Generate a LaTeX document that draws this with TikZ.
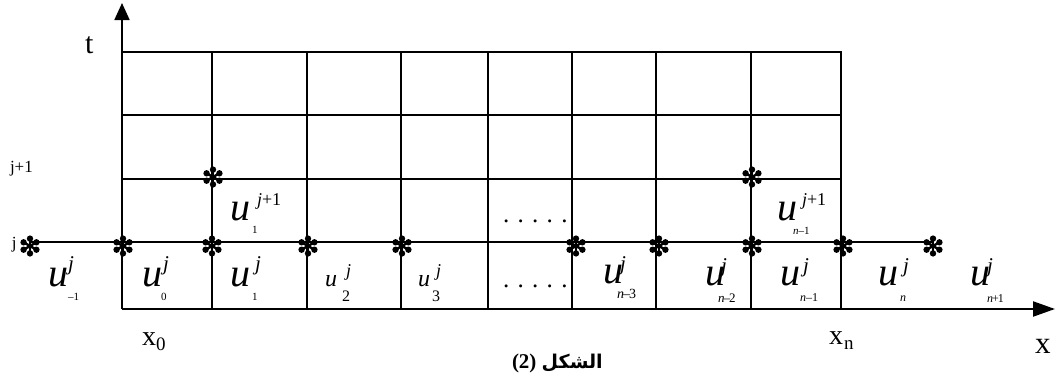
\documentclass[tikz,border=0pt]{standalone}
\usepackage{fontspec}
\setmainfont{Liberation Serif}
\newfontfamily\arabicfont[Script=Arabic]{DejaVu Sans}
\TeXXeTstate=1
\usetikzlibrary{arrows.meta}
\tikzset{
  gridline/.style={line width=2.2pt},
  axisline/.style={line width=1.8pt},
  txt/.style={anchor=base west,inner sep=0pt,outer sep=0pt},
  ubig/.style={txt,font=\fontsize{40}{40}\selectfont\itshape},
  usml/.style={txt,font=\fontsize{24}{24}\selectfont\itshape},
  supj/.style={txt,font=\fontsize{21}{21}\selectfont\itshape},
  supm/.style={txt,font=\fontsize{18}{18}\selectfont\itshape},
  subt/.style={txt,font=\fontsize{11}{11}\selectfont},
  subm/.style={txt,font=\fontsize{16}{16}\selectfont},
  lab/.style={txt,font=\fontsize{17}{17}\selectfont},
  axlab/.style={txt,font=\fontsize{30}{30}\selectfont},
  axsub/.style={txt,font=\fontsize{19}{19}\selectfont},
  dotrow/.style={txt,font=\fontsize{25}{25}\selectfont},
  starpic/.pic={
    \foreach \a in {90,150,...,390}{
      \draw[line width=2.4pt] (0,0) -- (\a:7);
      \fill (\a:7.4) circle (3.2);
    }
  }
}
\begin{document}
\begin{tikzpicture}[x=1pt,y=-1pt]
\useasboundingbox (0,0) rectangle (1055,381);

% grid
\foreach \xx in {122,212,307,401,488,572,656,751,841}{
  \draw[gridline] (\xx,52) -- (\xx,309);
}
\foreach \yy in {52,115,179}{
  \draw[gridline] (121,\yy) -- (842,\yy);
}
\coordinate (jl) at (30,242);
\coordinate (jr) at (933,242);
\draw[gridline] (jl) -- (jr);

% axes
\coordinate (o) at (122,309);
\coordinate (ttop) at (122,3);
\coordinate (xend) at (1055,309);
\draw[axisline,-{Triangle[length=17pt,width=15pt]}] (122,53) -- (ttop);
\draw[gridline,-{Triangle[length=22pt,width=15pt]}] (o) -- (xend);

% stars
\foreach \xx in {30,123,212,308,402,576,659,752,843,933}{
  \pic at (\xx,246) {starpic};
}
\pic at (213,177) {starpic};
\pic at (752,177) {starpic};

% axis labels
\node[axlab] (t) at (85,53) {t};
\node[lab] (jp1) at (10,172) {j+1};
\node[lab] (jj) at (12,248) {j};
\node[txt,font=\fontsize{28}{28}\selectfont] (x0) at (142,345) {x};
\node[axsub] (x0s) at (156,350) {0};
\node[txt,font=\fontsize{28}{28}\selectfont] (xn) at (829,344) {x};
\node[axsub] (xns) at (844,349) {n};
\node[txt,font=\fontsize{31}{31}\selectfont] (xax) at (1035,353) {x};

% u labels, row j
\node[ubig] (um1) at (48,286) {u};
\node[supj] (um1j) at (68,270) {j};
\node[subt] (um1s) at (68,300) {\textendash1};

\node[ubig] (u0) at (142,286) {u};
\node[supj] (u0j) at (163,270) {j};
\node[subt] (u0s) at (161,300) {0};

\node[ubig] (u1) at (230,286) {u};
\node[supj] (u1j) at (255,270) {j};
\node[subt] (u1s) at (252,300) {1};

\node[usml] (u2) at (325,286) {u};
\node[supm] (u2j) at (346,276) {j};
\node[subm] (u2s) at (342,301) {2};

\node[usml] (u3) at (418,286) {u};
\node[supm] (u3j) at (436,276) {j};
\node[subm] (u3s) at (432,301) {3};

\node[ubig] (un3) at (603,283) {u};
\node[supj] (un3j) at (620,270) {j};
\node[txt,font=\fontsize{14}{14}\selectfont] (un3s) at (617,298) {\textit{n}\kern-1pt\textendash\kern-1pt3};

\node[ubig] (un2) at (705,285) {u};
\node[supj] (un2j) at (721,272) {j};
\node[txt,font=\fontsize{13}{13}\selectfont] (un2s) at (718,302) {\textit{n}\kern-1pt\textendash\kern-1pt2};

\node[ubig] (un1) at (780,285) {u};
\node[supj] (un1j) at (803,272) {j};
\node[txt,font=\fontsize{12}{12}\selectfont] (un1s) at (800,301) {\textit{n}\textendash1};

\node[ubig] (un) at (878,285) {u};
\node[supj] (unj) at (903,272) {j};
\node[txt,font=\fontsize{12}{12}\selectfont\itshape] (uns) at (900,301) {n};

\node[ubig] (unp1) at (970,285) {u};
\node[supj] (unp1j) at (987,272) {j};
\node[txt,font=\fontsize{12}{12}\selectfont] (unp1s) at (987,302) {\textit{n}\kern-1pt+\kern-1pt1};

% u labels, row j+1
\node[ubig] (v1) at (230,220) {u};
\node[supm] (v1j) at (257,205) {j\textup{+1}};
\node[subt] (v1s) at (252,233) {1};

\node[ubig] (vn1) at (777,220) {u};
\node[supm] (vn1j) at (802,205) {j\textup{+1}};
\node[txt,font=\fontsize{11}{11}\selectfont] (vn1s) at (793,234) {\textit{n}\textendash1};

% dots
\node[dotrow] (dtop) at (503,222) {. . . . .};
\node[dotrow] (dbot) at (503,287) {. . . . .};

% caption
\node[txt,font=\fontsize{21}{21}\selectfont\bfseries] (cap) at (512,368)
  {(2)\ {\fontsize{19}{19}\selectfont\arabicfont\beginR الشكل\endR}};
\end{tikzpicture}
\end{document}
